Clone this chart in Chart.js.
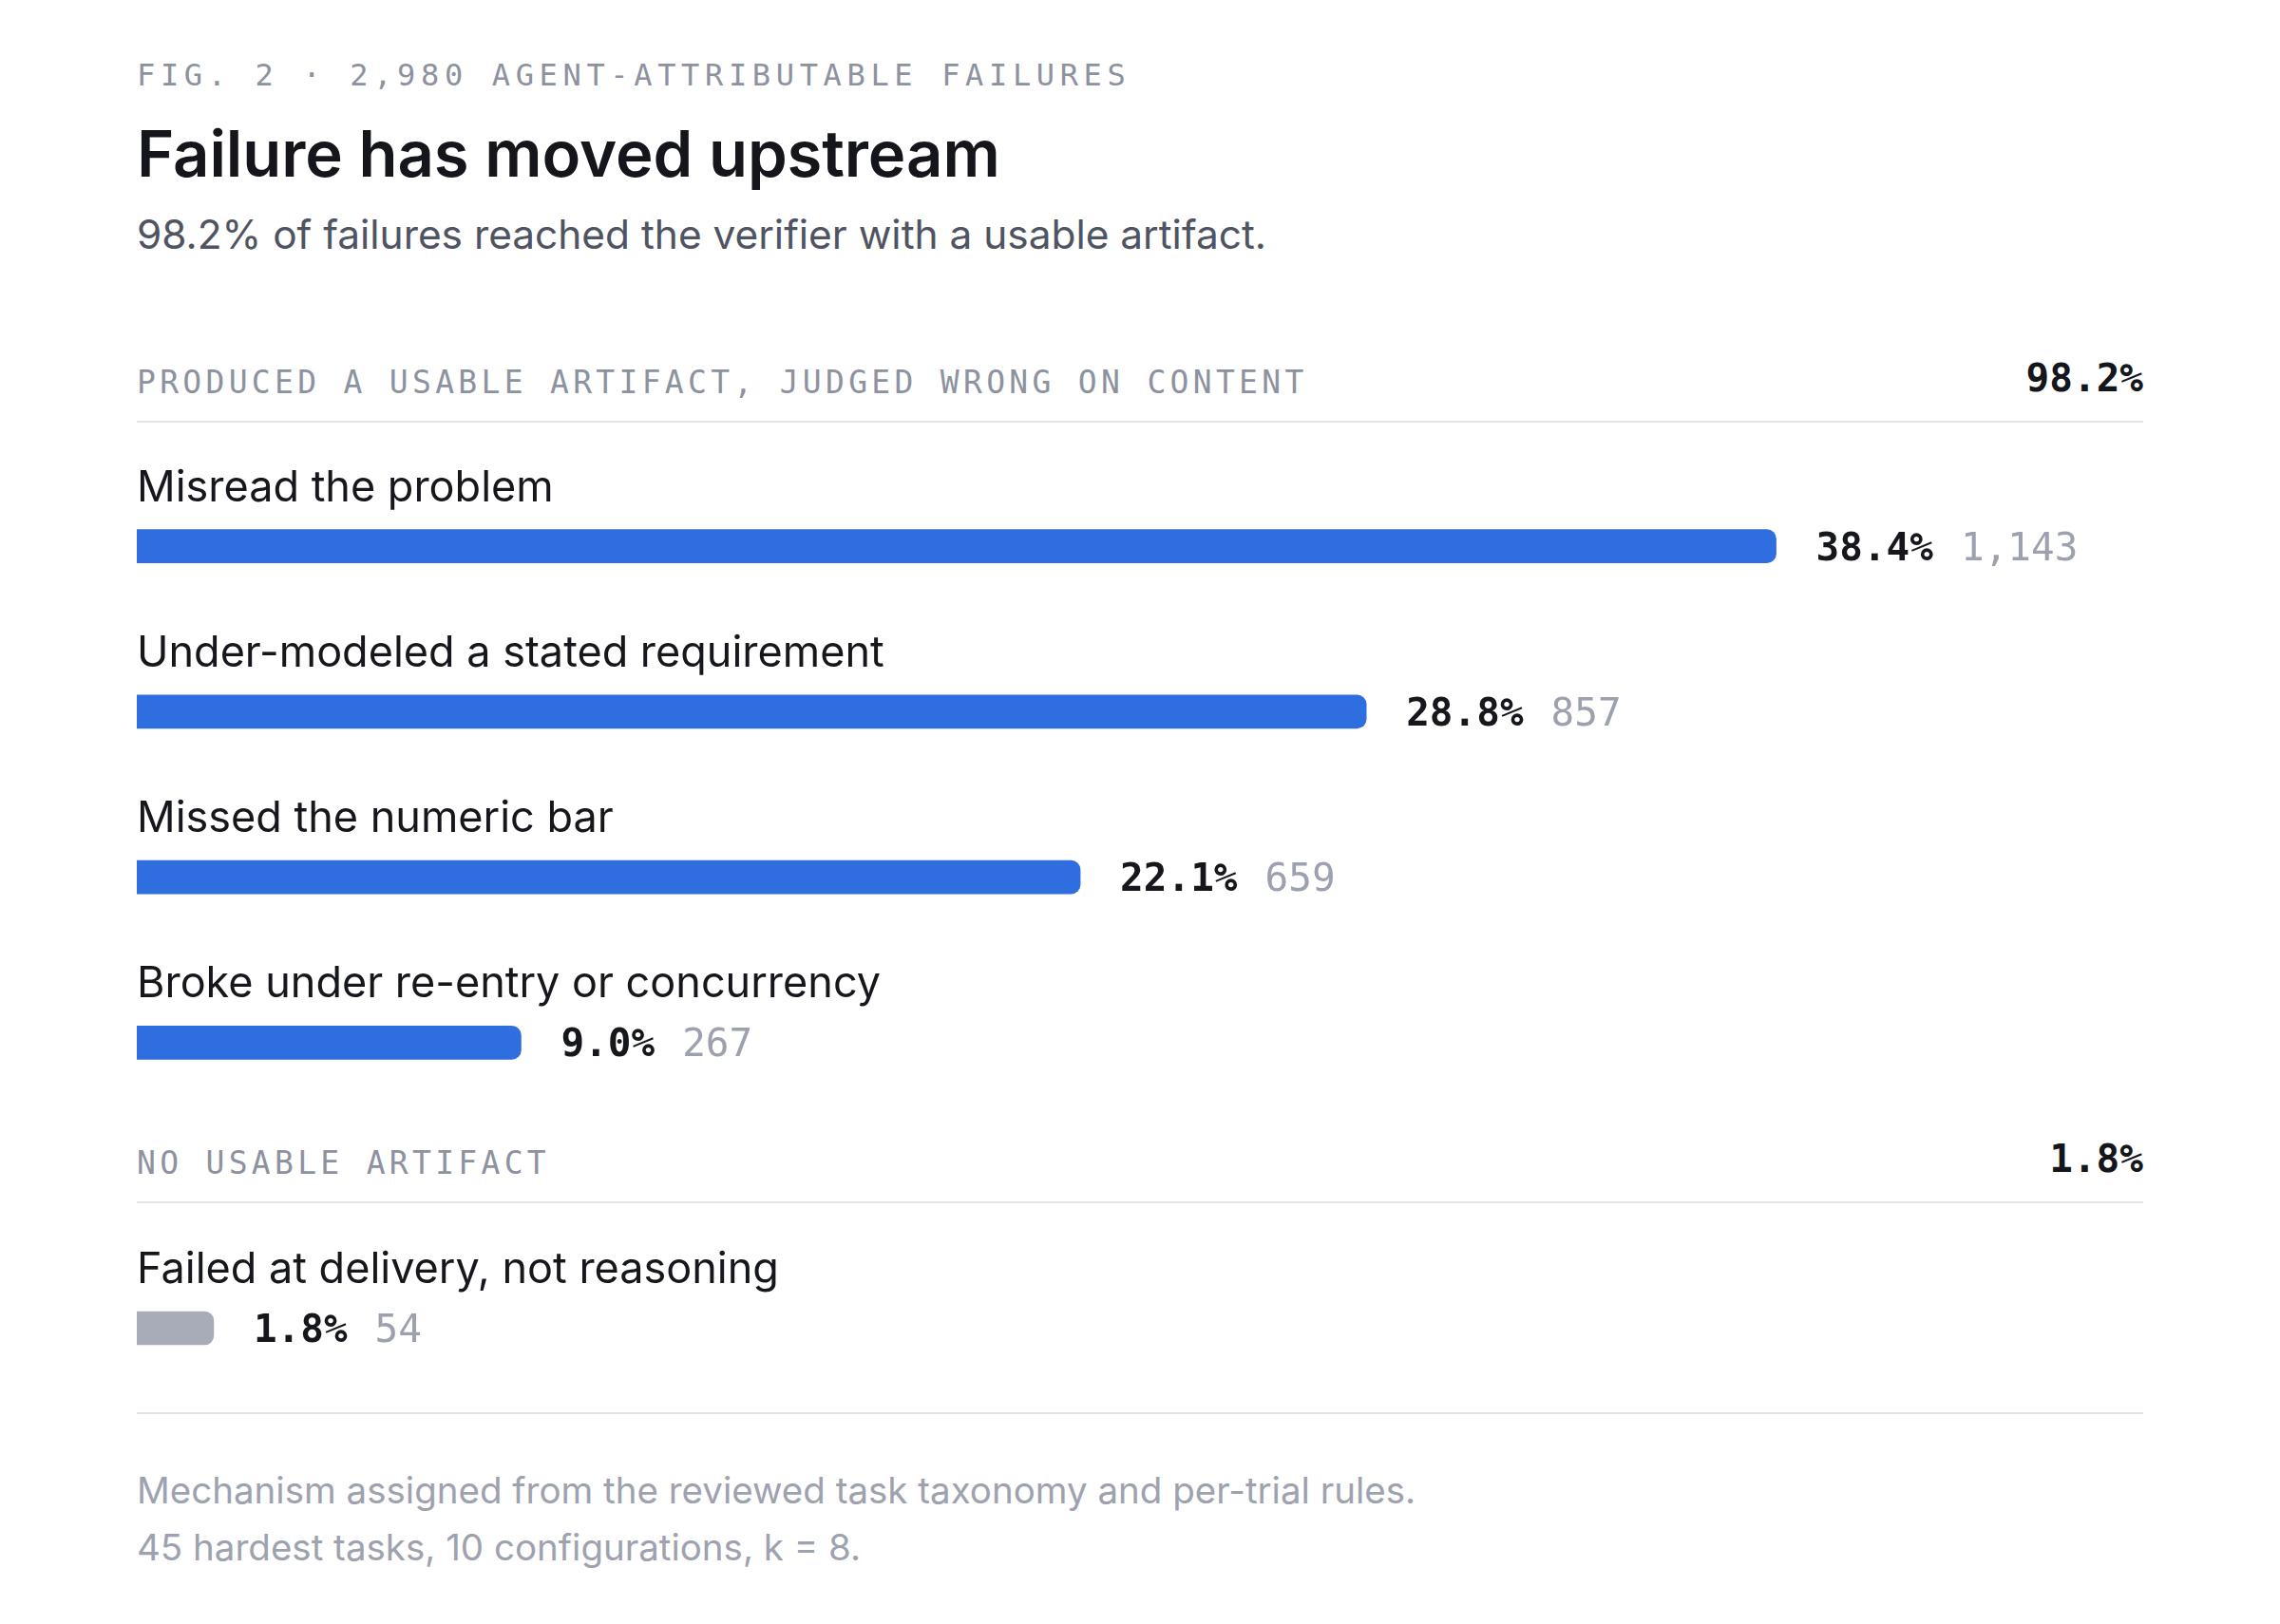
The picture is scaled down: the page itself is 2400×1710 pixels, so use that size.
<!DOCTYPE html>
<html>
<head>
<meta charset="utf-8">
<script src="https://cdn.jsdelivr.net/npm/chart.js@4.4.1/dist/chart.umd.min.js"></script>
<style>
  html, body { margin: 0; padding: 0; background: #fff; }
  body { width: 2400px; height: 1710px; position: relative; overflow: hidden; font-family: Inter, "Noto Sans", sans-serif; }
  .abs { position: absolute; left: 144px; white-space: nowrap; line-height: 1; }
  .mono { font-family: "DejaVu Sans Mono", monospace; }
  .kicker { top: 63px; font-size: 32px; letter-spacing: 5.65px; color: #8d92a0; }
  .title { top: 128px; font-size: 67px; font-weight: 600; color: #14161c; letter-spacing: -0.1px; }
  .sub { top: 226px; font-size: 42.4px; color: #4f5462; }
  .sect { font-size: 33px; letter-spacing: 4.3px; color: #8d92a0; }
  .total { left: auto; right: 144px; font-size: 41px; font-weight: bold; color: #14161c; }
  .rule { position: absolute; left: 144px; width: 2112px; height: 2px; background: #e3e4ea; }
  .foot { top: 1539px; font-size: 38.5px; line-height: 60px; color: #9ea2af; }
  canvas { position: absolute; left: 144px; }
</style>
</head>
<body>
<div class="abs mono kicker">FIG. 2 · 2,980 AGENT-ATTRIBUTABLE FAILURES</div>
<div class="abs title">Failure has moved upstream</div>
<div class="abs sub">98.2% of failures reached the verifier with a usable artifact.</div>

<div class="abs mono sect" style="top:386px">PRODUCED A USABLE ARTIFACT, JUDGED WRONG ON CONTENT</div>
<div class="abs mono total" id="totalA" style="top:378px"></div>
<div class="rule" style="top:443px"></div>
<canvas id="chartA" width="2112" height="737" style="top:448px"></canvas>

<div class="abs mono sect" style="top:1208px">NO USABLE ARTIFACT</div>
<div class="abs mono total" id="totalB" style="top:1200px"></div>
<div class="rule" style="top:1265px"></div>
<canvas id="chartB" width="2112" height="157" style="top:1290px"></canvas>

<div class="rule" style="top:1487px"></div>
<div class="abs foot">Mechanism assigned from the reviewed task taxonomy and per-trial rules.<br>45 hardest tasks, 10 configurations, k = 8.</div>

<script>
  // produced a usable artifact
  const mechanismsA = ['Misread the problem', 'Under-modeled a stated requirement', 'Missed the numeric bar', 'Broke under re-entry or concurrency'];
  const shareA = [38.4, 28.8, 22.1, 9.0];
  const countA = [1143, 857, 659, 267];

  // no usable artifact
  const mechanismsB = ['Failed at delivery, not reasoning'];
  const shareB = [1.8];
  const countB = [54];

  const groupTotals = [98.2, 1.8];
  const axisMax = 47;

  document.getElementById('totalA').textContent = groupTotals[0].toFixed(1) + '%';
  document.getElementById('totalB').textContent = groupTotals[1].toFixed(1) + '%';

  const barLabels = {
    id: 'barLabels',
    afterDatasetsDraw(chart, args, opts) {
      const ctx = chart.ctx;
      const meta = chart.getDatasetMeta(0);
      ctx.save();
      meta.data.forEach((bar, i) => {
        const top = bar.y - bar.height / 2;
        // mechanism name above the bar
        ctx.font = '400 45px Inter, "Noto Sans", sans-serif';
        ctx.fillStyle = '#15171d';
        ctx.textBaseline = 'alphabetic';
        ctx.textAlign = 'left';
        ctx.fillText(chart.data.labels[i], chart.chartArea.left, top - 30);

        // share and count to the right of the bar
        const pct = chart.data.datasets[0].data[i].toFixed(1) + '%';
        ctx.font = 'bold 41px "DejaVu Sans Mono", monospace';
        ctx.fillStyle = '#15171d';
        const vx = bar.x + 42;
        ctx.fillText(pct, vx, bar.y + 14.5);
        const w = ctx.measureText(pct).width;
        ctx.font = '400 41px "DejaVu Sans Mono", monospace';
        ctx.fillStyle = '#9da1af';
        ctx.fillText(opts.counts[i].toLocaleString('en-US'), vx + w + 29, bar.y + 14.5);
      });
      ctx.restore();
    }
  };

  function makeChart(id, labels, values, counts, color, padTop) {
    return new Chart(document.getElementById(id).getContext('2d'), {
      type: 'bar',
      data: {
        labels: labels,
        datasets: [{
          data: values,
          backgroundColor: color,
          borderRadius: 10,
          barThickness: 35
        }]
      },
      options: {
        indexAxis: 'y',
        responsive: false,
        animation: false,
        layout: { padding: { top: padTop, bottom: 0, left: 0, right: 0 } },
        scales: {
          x: { min: 0, max: axisMax, display: false },
          y: { display: false }
        },
        plugins: {
          legend: { display: false },
          tooltip: { enabled: false },
          barLabels: { counts: counts }
        }
      },
      plugins: [barLabels]
    });
  }

  makeChart('chartA', mechanismsA, shareA, countA, '#2f6ede', 40);
  makeChart('chartB', mechanismsB, shareB, countB, '#a8acb8', 60);
</script>
</body>
</html>
